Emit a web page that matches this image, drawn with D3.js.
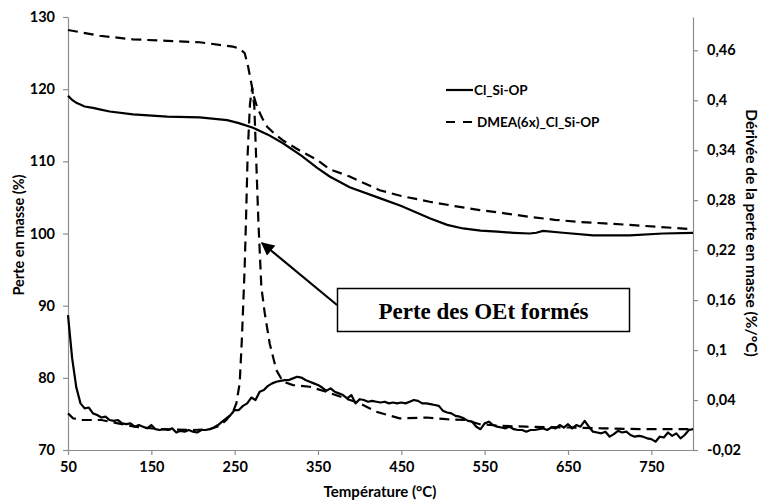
<!DOCTYPE html>
<html><head><meta charset="utf-8">
<script src="https://cdn.jsdelivr.net/npm/d3@7"></script>
<style>
html,body{margin:0;padding:0;background:#fff;}
svg{display:block;font-family:Lato,"Open Sans",sans-serif;font-weight:bold;}
</style></head><body>
<svg id="chart" width="760" height="503"></svg>
<script>
// ---- data ----
const seriesNames = ["Cl_Si-OP", "DMEA(6x)_Cl_Si-OP"];
const xTicks = [50,150,250,350,450,550,650,750];
const leftTicks = [70,80,90,100,110,120,130];
const rightTicks = [-0.02,0.04,0.1,0.16,0.22,0.28,0.34,0.4,0.46];
const rightTickLabels = ["-0,02","0,04","0,1","0,16","0,22","0,28","0,34","0,4","0,46"];

// TGA mass loss, Cl_Si-OP (left axis)
const tgaT1 = [50,55,60,70,80,88,100,128,169,208,241,255,272,290,308,330,349,364,388,424,450,484,505,524,545,565,585,604,612,620,644,680,724,764,800];
const tgaV1 = [119.1,118.5,118.1,117.6,117.4,117.2,116.9,116.5,116.2,116.1,115.7,115.3,114.65,113.7,112.5,110.8,109.1,107.9,106.4,104.9,103.8,102.1,101.2,100.7,100.4,100.25,100.1,100.0,100.1,100.35,100.1,99.75,99.75,100.0,100.1];
// TGA mass loss, DMEA(6x)_Cl_Si-OP (left axis)
const tgaT2 = [50,88,128,169,208,248,256,262,266,270,273,277,283,289,298,308,328,349,364,388,424,450,484,514,544,574,604,634,664,694,724,760,800];
const tgaV2 = [128.2,127.4,126.9,126.7,126.5,125.9,125.6,125.0,123.2,120.8,119.0,117.5,116.0,114.8,113.8,112.9,111.5,110.2,108.9,107.9,106.0,105.2,104.4,103.8,103.25,102.8,102.3,101.9,101.6,101.4,101.2,100.9,100.6];

// Derivative, Cl_Si-OP (right axis)
const dT1 = [50,55,60,65,70,75,80,85,90,95,100,105,110,115,120,125,130,135,140,145,150,155,160,165,170,175,180,185,190,195,200,205,210,215,220,225,230,235,240,245,250,255,260,265,270,275,280,285,290,295,300,305,310,315,320,325,330,335,340,345,350,355,360,365,370,375,380,385,390,395,400,405,410,415,420,425,430,435,440,445,450,455,460,465,470,475,480,485,490,495,500,505,510,515,520,525,530,535,540,545,550,555,560,565,570,575,580,585,590,595,600,605,610,615,620,625,630,635,640,645,650,655,660,665,670,675,680,685,690,695,700,705,710,715,720,725,730,735,740,745,750,755,760,765,770,775,780,785,790,795,800];
const dV1 = [0.142,0.090,0.055,0.036,0.030,0.031,0.024,0.022,0.019,0.020,0.016,0.015,0.016,0.012,0.011,0.012,0.008,0.010,0.008,0.006,0.010,0.005,0.004,0.005,0.004,0.006,0.001,0.003,0.002,0.004,0.002,0.001,0.004,0.004,0.005,0.007,0.010,0.014,0.018,0.022,0.028,0.028,0.033,0.036,0.043,0.040,0.050,0.052,0.057,0.060,0.062,0.063,0.064,0.064,0.066,0.068,0.067,0.064,0.062,0.060,0.058,0.055,0.051,0.054,0.050,0.048,0.046,0.042,0.046,0.036,0.041,0.040,0.038,0.039,0.038,0.037,0.038,0.036,0.037,0.036,0.037,0.036,0.038,0.040,0.039,0.036,0.036,0.035,0.034,0.033,0.027,0.025,0.024,0.021,0.020,0.018,0.015,0.014,0.008,0.005,0.012,0.014,0.010,0.008,0.007,0.006,0.008,0.005,0.004,0.004,0.002,0.004,0.004,0.005,0.006,0.004,0.007,0.006,0.010,0.007,0.011,0.006,0.010,0.008,0.015,0.008,0.002,0.001,0.000,0.002,-0.004,-0.001,0.003,0.001,0.002,-0.002,-0.004,-0.003,-0.004,-0.006,-0.007,-0.010,-0.004,-0.005,0.001,-0.003,0.000,-0.006,-0.002,0.004,0.005];
// Derivative, DMEA(6x)_Cl_Si-OP (right axis)
const dT2 = [50,56,66,90,110,130,160,200,220,232,240,248,252,256,258.5,260.5,262,263.6,265.6,268.4,271,273.6,275.6,278.4,282,286,292,300,308,320,340,360,380,400,420,448,480,504,528,544,570,600,650,692,740,800];
const dV2 = [0.024,0.018,0.016,0.016,0.012,0.008,0.005,0.004,0.005,0.009,0.016,0.026,0.036,0.060,0.110,0.160,0.200,0.256,0.336,0.396,0.415,0.392,0.336,0.256,0.176,0.145,0.108,0.076,0.062,0.058,0.056,0.050,0.043,0.036,0.026,0.018,0.019,0.017,0.016,0.011,0.009,0.008,0.007,0.006,0.005,0.005];

const annotationText = "Perte des OEt formés";

// ---- layout ----
const svg = d3.select("#chart");
const x = d3.scaleLinear().domain([50,800]).range([68,693]);
const yL = d3.scaleLinear().domain([70,130]).range([450,17]);
const yR = d3.scaleLinear().domain([-0.02,0.5]).range([450,17]);
const axisColor = "#8c8c8c";

function styleAxis(g){
  g.selectAll(".domain").attr("stroke",axisColor).attr("stroke-width",1.2);
  g.selectAll(".tick line").attr("stroke",axisColor).attr("stroke-width",1.2);
  g.selectAll(".tick text").attr("fill","#000").style("font-size","14.5px").style("font-weight","bold").style("font-family","Lato, 'Open Sans', sans-serif");
}

svg.append("g").attr("transform","translate(0,450)")
  .call(d3.axisBottom(x).tickValues(xTicks).tickSize(5).tickSizeOuter(0).tickPadding(7).tickFormat(d3.format("d")))
  .call(styleAxis);
svg.append("g").attr("transform","translate(68,0)")
  .call(d3.axisLeft(yL).tickValues(leftTicks).tickSize(5).tickSizeOuter(0).tickPadding(8).tickFormat(d3.format("d")))
  .call(styleAxis);
svg.append("g").attr("transform","translate(693,0)")
  .call(d3.axisRight(yR).tickValues(rightTicks).tickSize(5).tickSizeOuter(0).tickPadding(9).tickFormat((d,i)=>rightTickLabels[i]))
  .call(styleAxis);

// axis titles
const titleStyle = (s,fs) => s.attr("fill","#000").style("font-size",fs).style("font-weight","bold");
svg.append("text").attr("x",380).attr("y",497).attr("text-anchor","middle").text("Température (°C)").call(titleStyle,"15px");
svg.append("text").attr("transform","translate(24,235) rotate(-90)").attr("text-anchor","middle").text("Perte en masse (%)").call(titleStyle,"14.5px");
svg.append("text").attr("transform","translate(746,233) rotate(90)").attr("text-anchor","middle").text("Dérivée de la perte en masse (%/°C)").call(titleStyle,"15.5px");

// lines
const lineL = d3.line().x(d=>x(d[0])).y(d=>yL(d[1]));
const lineR = d3.line().x(d=>x(d[0])).y(d=>yR(d[1]));
const zip = (a,b)=>a.map((t,i)=>[t,b[i]]);
const plot = svg.append("g");
plot.append("path").attr("d",lineR(zip(dT2,dV2))).attr("fill","none").attr("stroke","#000").attr("stroke-width",2.2).attr("stroke-dasharray","10,6");
plot.append("path").attr("d",lineR(zip(dT1,dV1))).attr("fill","none").attr("stroke","#000").attr("stroke-width",2.2).attr("stroke-linejoin","round");
plot.append("path").attr("d",lineL(zip(tgaT2,tgaV2))).attr("fill","none").attr("stroke","#000").attr("stroke-width",2.2).attr("stroke-dasharray","10,6");
plot.append("path").attr("d",lineL(zip(tgaT1,tgaV1))).attr("fill","none").attr("stroke","#000").attr("stroke-width",2.2);

// legend
const lg = svg.append("g");
lg.append("line").attr("x1",446).attr("x2",473).attr("y1",90).attr("y2",90).attr("stroke","#000").attr("stroke-width",2.2);
lg.append("text").attr("x",474).attr("y",95).text(seriesNames[0]).attr("fill","#000").style("font-size","13.5px");
lg.append("line").attr("x1",446).attr("x2",473).attr("y1",122).attr("y2",122).attr("stroke","#000").attr("stroke-width",2.2).attr("stroke-dasharray","9,8");
lg.append("text").attr("x",477).attr("y",127).text(seriesNames[1]).attr("fill","#000").style("font-size","13.5px");

// annotation
const ann = svg.append("g");
ann.append("rect").attr("x",337.5).attr("y",288.5).attr("width",292).attr("height",43).attr("fill","#fff").attr("stroke","#000").attr("stroke-width",1.5);
ann.append("text").attr("x",483.5).attr("y",319).attr("text-anchor","middle").text(annotationText)
  .attr("fill","#000").style("font-family","'Liberation Serif','Times New Roman',serif").style("font-size","23px").style("font-weight","bold");
svg.append("defs").append("marker").attr("id","ah").attr("viewBox","0 0 10 10").attr("refX",9).attr("refY",5)
  .attr("markerWidth",6).attr("markerHeight",6).attr("markerUnits","strokeWidth").attr("orient","auto")
  .append("path").attr("d","M0,0 L10,5 L0,10 z").attr("fill","#000");
ann.append("line").attr("x1",337).attr("y1",305).attr("x2",262).attr("y2",243).attr("stroke","#000").attr("stroke-width",2.2).attr("marker-end","url(#ah)");
</script>
</body></html>
